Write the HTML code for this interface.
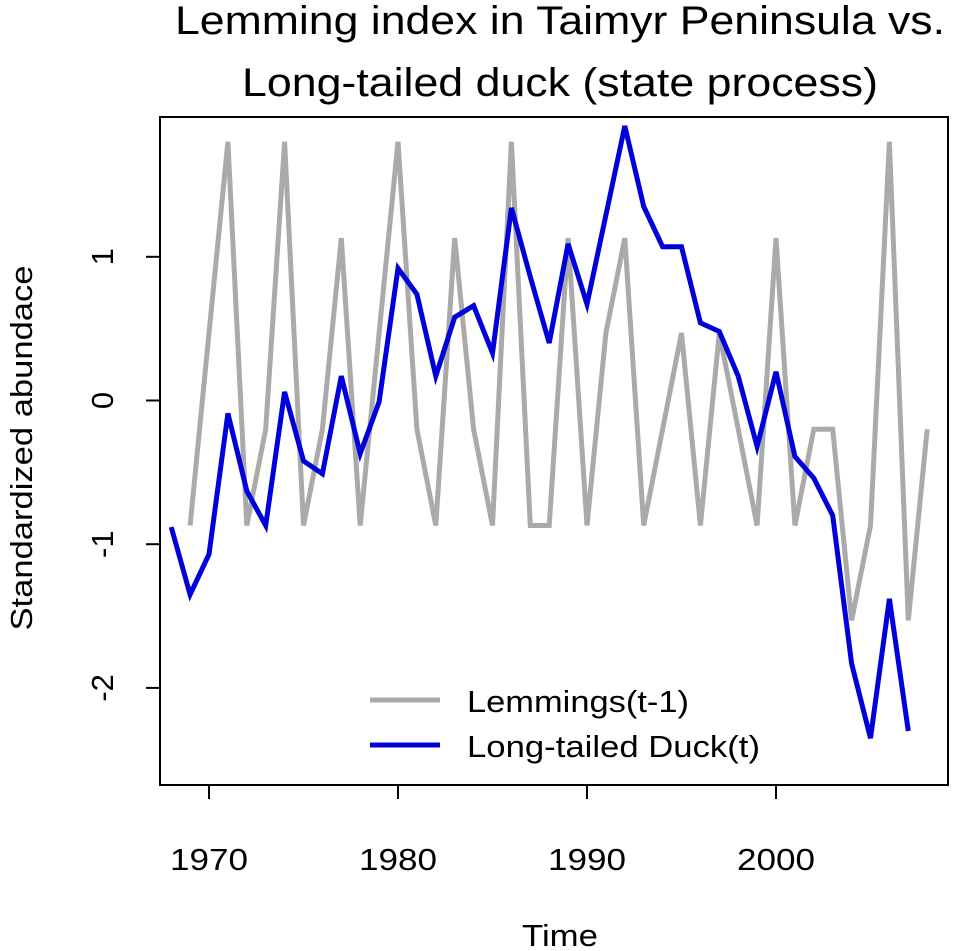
<!DOCTYPE html>
<html><head><meta charset="utf-8"><style>
html,body{margin:0;padding:0;background:#fff;}
svg{display:block;font-family:"Liberation Sans",Arial,sans-serif;}
</style></head><body>
<svg id="chart" width="960" height="951" viewBox="0 0 960 951">
<text x="560" y="34" font-size="40" text-anchor="middle" textLength="770" lengthAdjust="spacingAndGlyphs" fill="#000">Lemming index in Taimyr Peninsula vs.</text>
<text x="560" y="96" font-size="40" text-anchor="middle" textLength="636" lengthAdjust="spacingAndGlyphs" fill="#000">Long-tailed duck (state process)</text>
<text transform="translate(32,448) rotate(-90)" font-size="31" text-anchor="middle" textLength="365" lengthAdjust="spacingAndGlyphs" fill="#000">Standardized abundace</text>
<text x="560" y="946" font-size="31" text-anchor="middle" textLength="76" lengthAdjust="spacingAndGlyphs" fill="#000">Time</text>
<g id="axes"></g>
<g id="series"></g>
<rect x="160" y="117" width="788" height="668" fill="none" stroke="#000" stroke-width="2"/>
<g>
<line x1="370" y1="700" x2="440" y2="700" stroke="#aaaaaa" stroke-width="5"/>
<text x="467" y="712" font-size="31" textLength="222" lengthAdjust="spacingAndGlyphs" fill="#000">Lemmings(t-1)</text>
<line x1="370" y1="745" x2="440" y2="745" stroke="#0000dd" stroke-width="5"/>
<text x="467" y="757" font-size="31" textLength="293" lengthAdjust="spacingAndGlyphs" fill="#000">Long-tailed Duck(t)</text>
</g>
</svg>
<script>
const lemmingStartYear = 1969;
const lemmingValues = [-0.87,0.47,1.8,-0.87,-0.2,1.8,-0.87,-0.2,1.13,-0.87,0.47,1.8,-0.2,-0.87,1.13,-0.2,-0.87,1.8,-0.87,-0.87,1.13,-0.87,0.47,1.13,-0.87,-0.2,0.47,-0.87,0.47,-0.2,-0.87,1.13,-0.87,-0.2,-0.2,-1.53,-0.87,1.8,-1.53,-0.2];
const duckStartYear = 1968;
const duckValues = [-0.88,-1.35,-1.07,-0.09,-0.63,-0.87,0.06,-0.42,-0.51,0.17,-0.37,-0.01,0.92,0.74,0.17,0.58,0.66,0.33,1.34,0.86,0.40,1.09,0.67,1.29,1.91,1.35,1.07,1.07,0.54,0.48,0.17,-0.32,0.20,-0.39,-0.54,-0.80,-1.83,-2.35,-1.38,-2.30];
const xTicks = [1970,1980,1990,2000];
const yTicks = [-2,-1,0,1];

const NS = "http://www.w3.org/2000/svg";
function xs(year){ return 209 + (year - 1970) * 18.9; }
function ys(v){ return 400.5 - v * 143.7; }
const axes = document.getElementById('axes');
const series = document.getElementById('series');

xTicks.forEach(t => {
  const l = document.createElementNS(NS,'line');
  l.setAttribute('x1', xs(t)); l.setAttribute('x2', xs(t));
  l.setAttribute('y1', 785); l.setAttribute('y2', 799);
  l.setAttribute('stroke','#000'); l.setAttribute('stroke-width','2');
  
  
  axes.appendChild(l);
  const tx = document.createElementNS(NS,'text');
  tx.setAttribute('x', xs(t)); tx.setAttribute('y', 870);
  tx.setAttribute('font-size','31'); tx.setAttribute('text-anchor','middle');
  tx.setAttribute('textLength','78'); tx.setAttribute('lengthAdjust','spacingAndGlyphs');
  tx.textContent = t;
  
  
  axes.appendChild(tx);
});
yTicks.forEach(t => {
  const l = document.createElementNS(NS,'line');
  l.setAttribute('x1', 146); l.setAttribute('x2', 160);
  l.setAttribute('y1', ys(t)); l.setAttribute('y2', ys(t));
  l.setAttribute('stroke','#000'); l.setAttribute('stroke-width','2');
  
  
  axes.appendChild(l);
  const tx = document.createElementNS(NS,'text');
  tx.setAttribute('transform', 'translate(113,' + ys(t) + ') rotate(-90)');
  tx.setAttribute('font-size','31'); tx.setAttribute('text-anchor','middle');
  tx.textContent = t;
  
  
  axes.appendChild(tx);
});

function drawLine(vals, start, color, name){
  const pts = vals.map((v,i) => xs(start + i).toFixed(1) + ',' + ys(v).toFixed(1)).join(' ');
  const p = document.createElementNS(NS,'polyline');
  p.setAttribute('points', pts);
  p.setAttribute('fill','none'); p.setAttribute('stroke', color);
  p.setAttribute('stroke-width','5'); p.setAttribute('stroke-linejoin','miter');
  
  
  series.appendChild(p);
}
drawLine(lemmingValues, lemmingStartYear, '#aaaaaa', 'lemmings-line');
drawLine(duckValues, duckStartYear, '#0000dd', 'duck-line');
</script>
</body></html>
